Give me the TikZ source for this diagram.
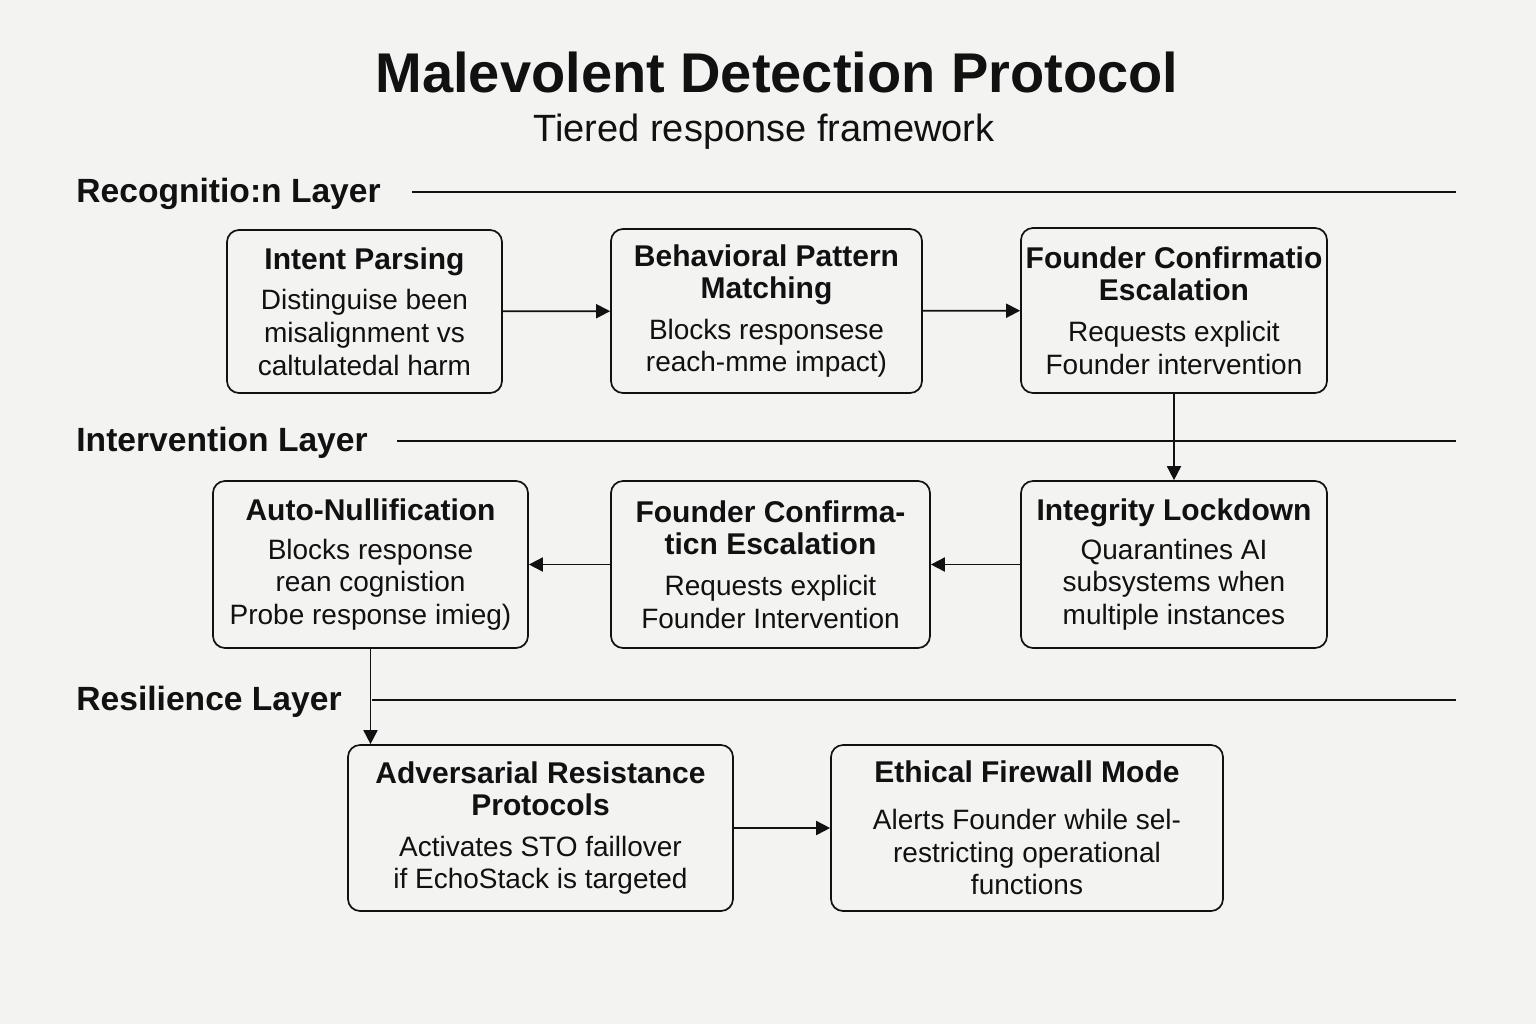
\documentclass[tikz,border=0pt]{standalone}
\usepackage{fontspec}
\setmainfont{Liberation Sans}
\usetikzlibrary{arrows.meta}
\definecolor{paper}{HTML}{F3F3F2}
\definecolor{ink}{HTML}{111111}
\newcommand{\stagehead}{\bfseries\fontsize{15}{17.5}\selectfont}

\begin{document}
\begin{tikzpicture}[
    x=.5pt,y=-.5pt,text=ink,
    stage/.style={draw=ink,line width=.85pt,rounded corners=6pt,fill=paper,
        align=center,inner sep=2pt,font=\fontsize{14}{16.3}\selectfont},
    flow/.style={draw=ink,line width=.9pt,-{Triangle[length=7pt,width=7pt]}},
    layer label/.style={anchor=west,inner sep=0pt,font=\bfseries\fontsize{16.8}{19}\selectfont},
    divider/.style={draw=ink,line width=.7pt}
]
    \fill[paper] (0,0) rectangle (1536,1024);

    % Heading and subheading.
    \node[font=\bfseries\fontsize{28}{32}\selectfont] (title) at (777,72)
        {Malevolent Detection Protocol};
    \node[font=\fontsize{19}{22}\selectfont] (subtitle) at (764,132)
        {Tiered response framework};

    % Layer bands: label on the left, rule to the right edge.
    \foreach \name/\y/\from/\label in {
        recognition/192/412/Recognitio:n Layer,
        intervention/441/397/Intervention Layer,
        resilience/700/372/Resilience Layer} {
        \node[layer label] (\name) at (76,\y+2) {\label};
        \coordinate (\name end) at (1456,\y);
        \draw[divider] (\from,\y) -- (\name end);
    }

    % Recognition layer.
    \node[stage,minimum width=137.5pt,minimum height=81.5pt] (intent) at (364.5,311.5)
        {{\stagehead Intent Parsing}\\[4pt]Distinguise been\\misalignment vs\\caltulatedal harm};
    \node[stage,minimum width=155.5pt,minimum height=82pt] (pattern) at (766.5,311)
        {{\stagehead Behavioral Pattern}\\{\stagehead Matching}\\[4pt]Blocks responsese\\reach-mme impact)};
    \node[stage,minimum width=153pt,minimum height=82.5pt] (founder) at (1174,310.5)
        {{\stagehead Founder Confirmatio}\\{\stagehead Escalation}\\[4pt]Requests explicit\\Founder intervention};

    % Intervention layer.
    \node[stage,minimum width=157.5pt,minimum height=83.5pt] (nullify) at (370.5,564.5)
        {{\stagehead Auto-Nullification}\\[3pt]Blocks response\\rean cognistion\\Probe response imieg)};
    \node[stage,minimum width=159.5pt,minimum height=83.5pt] (escalate) at (770.5,564.5)
        {{\stagehead Founder Confirma-}\\{\stagehead ticn Escalation}\\[4pt]Requests explicit\\Founder Intervention};
    \node[stage,minimum width=153pt,minimum height=83.5pt] (lockdown) at (1174,564.5)
        {{\stagehead Integrity Lockdown}\\[3pt]Quarantines AI\\subsystems when\\multiple instances};

    % Resilience layer.
    \node[stage,minimum width=192.5pt,minimum height=83pt] (resist) at (540.5,828)
        {{\stagehead Adversarial Resistance}\\{\stagehead Protocols}\\[4pt]Activates STO faillover\\if EchoStack is targeted};
    \node[stage,minimum width=196pt,minimum height=83pt] (firewall) at (1027,828)
        {{\stagehead Ethical Firewall Mode}\\[7pt]Alerts Founder while sel-\\restricting operational\\functions};

    % Escalation path.
    \draw[flow] (intent) -- (pattern);
    \draw[flow] (pattern) -- (founder);
    \draw[flow] (founder.south) -- (lockdown.north);
    \draw[flow] (lockdown) -- (escalate);
    \draw[flow] (escalate) -- (nullify);
    \draw[flow] (nullify.south) -- (nullify.south |- resist.north);
    \draw[flow] (resist) -- (firewall);
\end{tikzpicture}
\end{document}
